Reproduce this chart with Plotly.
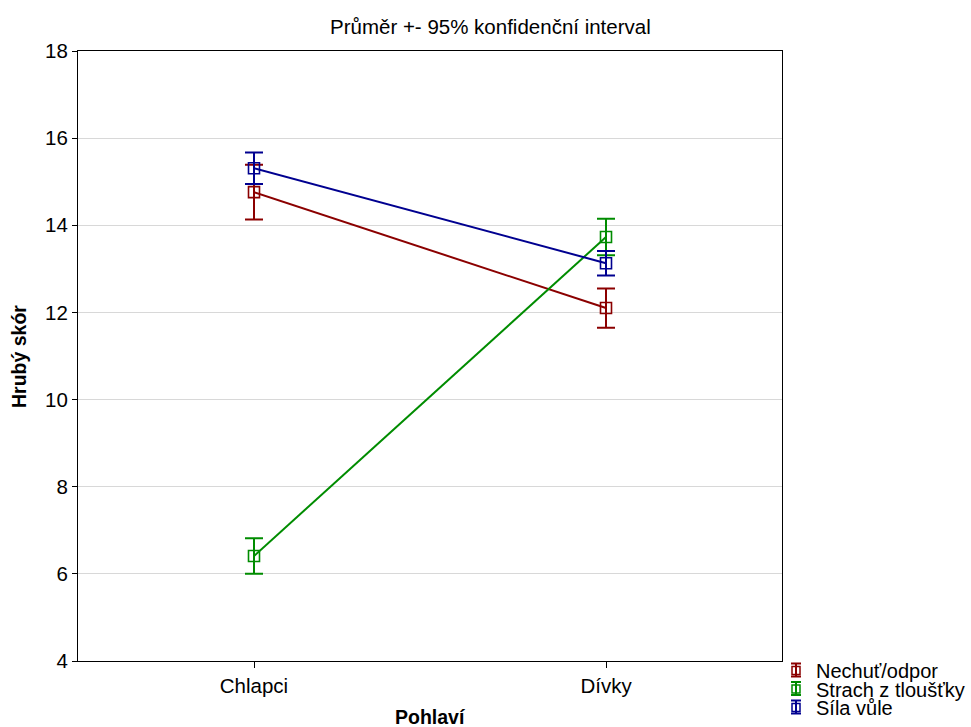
import plotly.graph_objects as go

groups = ["Chlapci", "Dívky"]
series_names = ["Nechuť/odpor", "Strach z tloušťky", "Síla vůle"]
means = {
    "Nechuť/odpor": [14.76, 12.10],
    "Strach z tloušťky": [6.41, 13.73],
    "Síla vůle": [15.31, 13.13],
}
ci_half = {
    "Nechuť/odpor": [0.63, 0.45],
    "Strach z tloušťky": [0.41, 0.42],
    "Síla vůle": [0.36, 0.28],
}
colors = {
    "Nechuť/odpor": "#8b0000",
    "Strach z tloušťky": "#008c00",
    "Síla vůle": "#000090",
}
y_ticks = [4, 6, 8, 10, 12, 14, 16, 18]

W, H = 971, 727
L, R, T, B = 78, 189, 51, 66
PW, PH = W - L - R, H - T - B


def px_x(px):
    return (px - L) / PW


def px_y(py):
    return (H - B - py) / PH


fig = go.Figure()
for name in series_names:
    fig.add_trace(go.Scatter(
        x=groups, y=means[name], name=name, mode="lines+markers",
        line=dict(color=colors[name], width=2),
        marker=dict(symbol="square-open", size=11, color=colors[name],
                    line=dict(width=1.6, color=colors[name])),
        error_y=dict(type="data", array=ci_half[name], visible=True,
                     color=colors[name], thickness=2, width=9),
        showlegend=False,
    ))

font_family = "Liberation Sans, Arial, sans-serif"
annotations = [
    dict(text="Průměr +- 95% konfidenční interval", xref="paper", yref="paper",
         x=px_x(W / 2 + 5), y=px_y(26), xanchor="center", yanchor="middle",
         showarrow=False, font=dict(size=20.5)),
    dict(text="<b>Pohlaví</b>", xref="paper", yref="paper",
         x=0.5, y=px_y(717), xanchor="center", yanchor="middle",
         showarrow=False, font=dict(size=19.5)),
    dict(text="<b>Hrubý skór</b>", xref="paper", yref="paper",
         x=px_x(19), y=px_y(357), xanchor="center", yanchor="middle",
         textangle=-90, showarrow=False, font=dict(size=19.5)),
]

# legend drawn as small error-bar glyphs with labels
shapes = []
leg_y = [670, 688.5, 707]
gx = 796
for name, cy in zip(series_names, leg_y):
    c = colors[name]
    line = dict(color=c, width=2)
    shapes += [
        dict(type="line", xref="paper", yref="paper", x0=px_x(gx), x1=px_x(gx),
             y0=px_y(cy - 6.5), y1=px_y(cy + 6.5), line=line),
        dict(type="line", xref="paper", yref="paper", x0=px_x(gx - 5), x1=px_x(gx + 5),
             y0=px_y(cy - 6.5), y1=px_y(cy - 6.5), line=line),
        dict(type="line", xref="paper", yref="paper", x0=px_x(gx - 5), x1=px_x(gx + 5),
             y0=px_y(cy + 6.5), y1=px_y(cy + 6.5), line=line),
        dict(type="rect", xref="paper", yref="paper", x0=px_x(gx - 4), x1=px_x(gx + 4),
             y0=px_y(cy - 3.5), y1=px_y(cy + 4.5), line=dict(color=c, width=1.5),
             fillcolor="rgba(0,0,0,0)"),
    ]
    annotations.append(dict(
        text=name, xref="paper", yref="paper", x=px_x(814), y=px_y(cy + 1),
        xanchor="left", yanchor="middle", showarrow=False, font=dict(size=20),
    ))

fig.update_layout(
    width=W, height=H,
    margin=dict(l=L, r=R, t=T, b=B),
    paper_bgcolor="white", plot_bgcolor="white",
    font=dict(family=font_family, size=20, color="black"),
    showlegend=False,
    annotations=annotations,
    shapes=shapes,
)
fig.update_xaxes(
    range=[-0.5, 1.5], showline=True, mirror=True, linecolor="black", linewidth=1,
    ticks="outside", ticklen=6, tickcolor="black", showgrid=False,
    tickfont=dict(size=20.5), automargin=False,
)
fig.update_yaxes(
    range=[4, 18], tickvals=y_ticks, showline=True, mirror=True, linecolor="black",
    linewidth=1, ticks="outside", ticklen=5, tickcolor="black",
    showgrid=True, gridcolor="#d8d8d8", gridwidth=1, zeroline=False,
    tickfont=dict(size=20.5), automargin=False,
)

fig.write_html("out.html")
